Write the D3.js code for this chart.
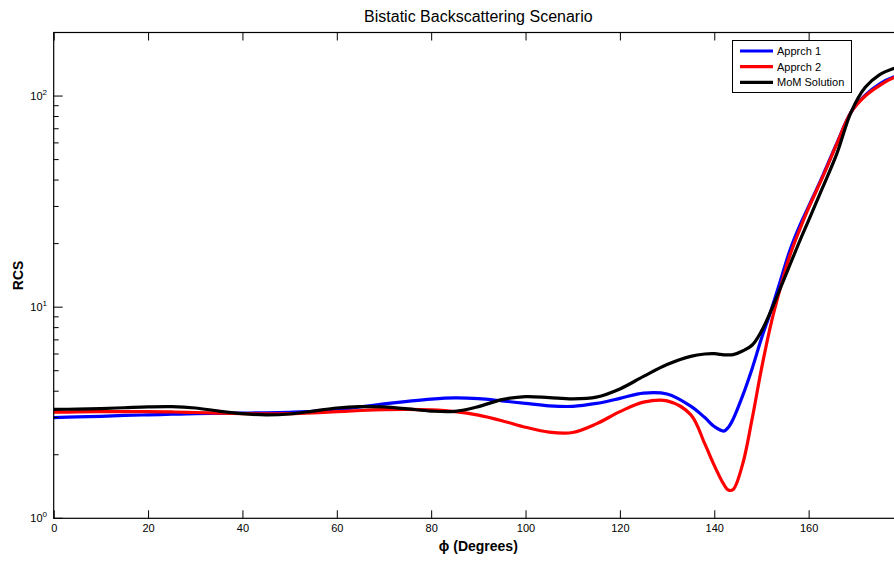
<!DOCTYPE html>
<html>
<head>
<meta charset="utf-8">
<script src="https://cdn.jsdelivr.net/npm/d3@7"></script>
<style>
    body { margin: 0; background: #fff; }
    svg { display: block; font-family: "Liberation Sans", Arial, sans-serif; }
</style>
</head>
<body>
<svg id="chart"></svg>
<script>
// Ângulos (graus) e valores de RCS
const angles = [0, 5, 10, 15, 20, 25, 30, 35, 40, 45, 50, 55, 60, 65, 70, 75, 80, 85, 90, 95,
    100, 105, 110, 115, 120, 125, 130, 135, 138, 140, 142, 143, 144, 146, 148, 150, 152, 154,
    156, 158, 160, 163, 166, 169, 172, 175, 178, 180];

const apprch1 = [3.0, 3.02, 3.04, 3.07, 3.09, 3.11, 3.13, 3.14, 3.15, 3.16, 3.18, 3.21, 3.27,
    3.37, 3.48, 3.58, 3.67, 3.72, 3.69, 3.6, 3.5, 3.41, 3.39, 3.5, 3.7, 3.92, 3.88, 3.4, 3.0,
    2.72, 2.59, 2.7, 2.95, 3.8, 5.1, 7.1, 9.6, 13.3, 18.5, 24, 30, 42, 60, 84, 101, 114, 123, 126];

const apprch2 = [3.18, 3.19, 3.2, 3.2, 3.2, 3.19, 3.17, 3.15, 3.13, 3.12, 3.13, 3.16, 3.2,
    3.24, 3.27, 3.28, 3.26, 3.2, 3.08, 2.9, 2.7, 2.56, 2.55, 2.8, 3.2, 3.55, 3.6, 3.1, 2.25,
    1.78, 1.45, 1.36, 1.37, 1.8, 2.94, 5.1, 8.3, 12.3, 17.5, 23, 29.5, 41.5, 59.5, 84, 100,
    112, 122, 125];

const momSolution = [3.28, 3.29, 3.31, 3.34, 3.37, 3.38, 3.33, 3.22, 3.13, 3.09, 3.12, 3.22,
    3.33, 3.38, 3.37, 3.3, 3.22, 3.21, 3.38, 3.65, 3.77, 3.73, 3.68, 3.75, 4.1, 4.7, 5.35,
    5.85, 6.0, 6.02, 5.95, 5.94, 5.96, 6.2, 6.6, 7.7, 9.6, 12.3, 15.8, 20.3, 25.8, 37, 53.5,
    84, 110, 126, 135, 139];

const seriesNames = ["Apprch 1", "Apprch 2", "MoM Solution"];
const seriesColors = ["#0000ff", "#ff0000", "#000000"];
const xTicks = [0, 20, 40, 60, 80, 100, 120, 140, 160, 180];
const yDecades = [1, 10, 100];

document.addEventListener("DOMContentLoaded", () => {
    const width = 894, height = 561;
    const left = 53.7, right = 903, top = 32.5, bottom = 518.3;

    const svg = d3.select("#chart")
        .attr("width", width)
        .attr("height", height);

    const x = d3.scaleLinear().domain([0, 180]).range([left, right]);
    const y = d3.scaleLog().domain([1, 200]).range([bottom, top]);

    // Curvas
    const allSeries = [apprch1, apprch2, momSolution];
    const line = d3.line()
        .x((d, i) => x(angles[i]))
        .y(d => y(d))
        .curve(d3.curveCatmullRom.alpha(0.5));

    svg.selectAll(".serie")
        .data(allSeries)
        .enter()
        .append("path")
        .attr("class", "serie")
        .attr("fill", "none")
        .attr("stroke", (d, i) => seriesColors[i])
        .attr("stroke-width", 3.2)
        .attr("stroke-linejoin", "round")
        .attr("d", line);

    // Caixa dos eixos
    svg.append("rect")
        .attr("x", left)
        .attr("y", top)
        .attr("width", right - left)
        .attr("height", bottom - top)
        .attr("fill", "none")
        .attr("stroke", "black")
        .attr("stroke-width", 1.2);

    // Ticks do eixo x (para dentro, em baixo e em cima); o 180 fica fora da janela
    const xAxisBottom = d3.axisBottom(x)
        .tickValues(xTicks)
        .tickSize(-8)
        .tickPadding(6)
        .tickFormat(d => (d < 180 ? d : ""));
    const gx = svg.append("g")
        .attr("transform", `translate(0,${bottom})`)
        .call(xAxisBottom);
    gx.select(".domain").remove();
    gx.selectAll("text")
        .style("font-size", "11px")
        .style("font-family", "Liberation Sans, Arial, sans-serif")
        .attr("fill", "#000");

    const gxTop = svg.append("g")
        .attr("transform", `translate(0,${top})`)
        .call(d3.axisTop(x).tickValues(xTicks).tickSize(-8).tickFormat(""));
    gxTop.select(".domain").remove();

    // Ticks do eixo y (log): maiores e menores
    const minorTicks = [];
    yDecades.forEach(dec => {
        for (let k = 2; k <= 9; k++) {
            if (dec * k <= 200) minorTicks.push(dec * k);
        }
    });

    [left, right].forEach((px, side) => {
        const dir = side === 0 ? 1 : -1;
        svg.selectAll(null)
            .data(yDecades)
            .enter()
            .append("line")
            .attr("x1", px)
            .attr("x2", px + dir * 9)
            .attr("y1", d => y(d))
            .attr("y2", d => y(d))
            .attr("stroke", "black");
        svg.selectAll(null)
            .data(minorTicks)
            .enter()
            .append("line")
            .attr("x1", px)
            .attr("x2", px + dir * 5)
            .attr("y1", d => y(d))
            .attr("y2", d => y(d))
            .attr("stroke", "black");
    });

    // Rótulos 10^n
    const yLabels = svg.selectAll(".ylab")
        .data(yDecades)
        .enter()
        .append("text")
        .attr("class", "ylab")
        .attr("x", 47)
        .attr("y", d => y(d) + 4)
        .attr("text-anchor", "end")
        .style("font-size", "11px");
    yLabels.append("tspan").text("10");
    yLabels.append("tspan")
        .attr("dy", -5)
        .style("font-size", "8px")
        .text(d => Math.round(Math.log10(d)));

    // Título e rótulos dos eixos
    svg.append("text")
        .attr("x", (left + right) / 2)
        .attr("y", 22)
        .attr("text-anchor", "middle")
        .style("font-size", "16px")
        .text("Bistatic Backscattering Scenario");

    svg.append("text")
        .attr("x", (left + right) / 2)
        .attr("y", 551)
        .attr("text-anchor", "middle")
        .style("font-size", "14px")
        .style("font-weight", "bold")
        .text("ϕ (Degrees)");

    svg.append("text")
        .attr("transform", `translate(23,${(top + bottom) / 2}) rotate(-90)`)
        .attr("text-anchor", "middle")
        .style("font-size", "14px")
        .style("font-weight", "bold")
        .text("RCS");

    // Legenda
    const legend = svg.append("g");
    legend.append("rect")
        .attr("x", 732.5)
        .attr("y", 40.5)
        .attr("width", 119)
        .attr("height", 52)
        .attr("fill", "white")
        .attr("stroke", "black")
        .attr("stroke-width", 1);

    const rows = legend.selectAll(".row")
        .data(seriesNames)
        .enter()
        .append("g")
        .attr("class", "row")
        .attr("transform", (d, i) => `translate(0,${51 + i * 15.7})`);
    rows.append("line")
        .attr("x1", 740)
        .attr("x2", 773)
        .attr("stroke", (d, i) => seriesColors[i])
        .attr("stroke-width", 3.2);
    rows.append("text")
        .attr("x", 777)
        .attr("y", 4)
        .style("font-size", "11px")
        .text(d => d);
});
</script>
</body>
</html>
